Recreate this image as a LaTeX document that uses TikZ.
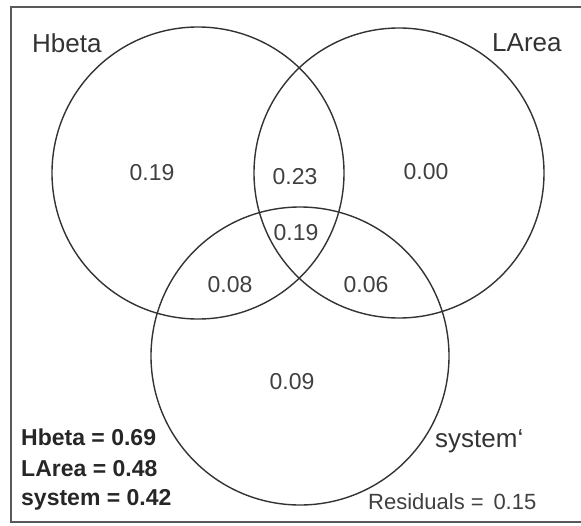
\documentclass[tikz,border=0pt]{standalone}
\usepackage{fontspec}
\setmainfont{Liberation Sans}
\begin{document}
\begin{tikzpicture}[x=1pt,y=-1pt,
  set/.style={circle,draw=black!80,line width=1.4pt,inner sep=0pt},
  lab/.style={text=black!80,font=\fontsize{26}{30}\selectfont,inner sep=0pt},
  num/.style={text=black!75,font=\fontsize{23}{27}\selectfont,inner sep=0pt},
  leg/.style={text=black!85,font=\fontsize{23}{27}\selectfont\bfseries,inner sep=0pt,anchor=west},
  frame/.style={draw=black!65,line width=2pt}]
\useasboundingbox (0,0) rectangle (581,525);
\draw[frame] (590,7) -- (10.5,7) -- (10.5,522) -- (590,522);
% circles
\node[set,minimum size=292pt] (hb) at (198,173) {};
\node[set,minimum size=290pt] (la) at (399,173) {};
\node[set,minimum size=298pt] (sy) at (300,356) {};
% set labels
\node[lab,anchor=west] (thb) at (32,43) {Hbeta};
\node[lab,anchor=west] (tla) at (492,43) {LArea};
\node[lab,anchor=west] (tsy) at (435,441) {system\char96};
% region values
\node[num] (r1) at (152,173) {0.19};
\node[num] (r2) at (295,177) {0.23};
\node[num] (r3) at (426,172) {0.00};
\node[num] (r4) at (296,233) {0.19};
\node[num] (r5) at (230,285) {0.08};
\node[num] (r6) at (366,285) {0.06};
\node[num] (r7) at (292,382) {0.09};
% legend
\node[leg] (l1) at (21,437) {Hbeta = 0.69};
\node[leg] (l2) at (21,469) {LArea = 0.48};
\node[leg] (l3) at (21,500) {system = 0.42};
\node[num,anchor=west,font=\fontsize{22}{26}\selectfont] (res) at (368,502) {Residuals =\, 0.15};
\end{tikzpicture}
\end{document}
